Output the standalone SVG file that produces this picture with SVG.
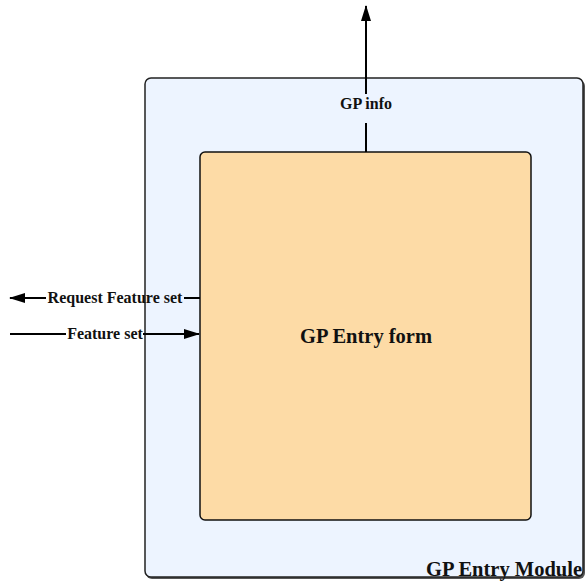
<svg xmlns="http://www.w3.org/2000/svg" width="586" height="581" viewBox="0 0 586 581">
<style>
.lbl{font-family:"Liberation Serif",serif;font-weight:bold;fill:#111;}
.edge{stroke:#000;stroke-width:2;fill:none;}
</style>
<defs>
<marker id="ahl" viewBox="0 0 16 10" refX="15" refY="5" markerWidth="16" markerHeight="10" markerUnits="userSpaceOnUse" orient="auto"><path d="M0,0 L16,5 L0,10 z" fill="#000"/></marker>
</defs>
<g id="module">
<rect x="146" y="80" width="439" height="499" rx="6" fill="#555"/>
<rect x="145" y="78" width="438" height="499" rx="6" fill="#EDF4FF" stroke="#222" stroke-width="1.5"/>
<text class="lbl" x="582" y="576" font-size="20.5" text-anchor="end">GP Entry Module</text>
</g>
<g id="form">
<rect x="200" y="152" width="331" height="368" rx="5" fill="#FDDBA6" stroke="#111" stroke-width="1.5"/>
<text class="lbl" x="366" y="343" font-size="20.5" text-anchor="middle">GP Entry form</text>
</g>
<g id="connectors">
<path class="edge" d="M366,152 L366,123 M366,94 L366,6" marker-end="url(#ahl)"/>
<text class="lbl" x="366" y="109" font-size="16" text-anchor="middle">GP info</text>
<path class="edge" d="M200,298 L184,298 M46,298 L10,298" marker-end="url(#ahl)"/>
<text class="lbl" x="115" y="303" font-size="16" text-anchor="middle">Request Feature set</text>
<path class="edge" d="M10,334 L66,334 M143,334 L199,334" marker-end="url(#ahl)"/>
<text class="lbl" x="105" y="339" font-size="16" text-anchor="middle">Feature set</text>
</g>
</svg>
